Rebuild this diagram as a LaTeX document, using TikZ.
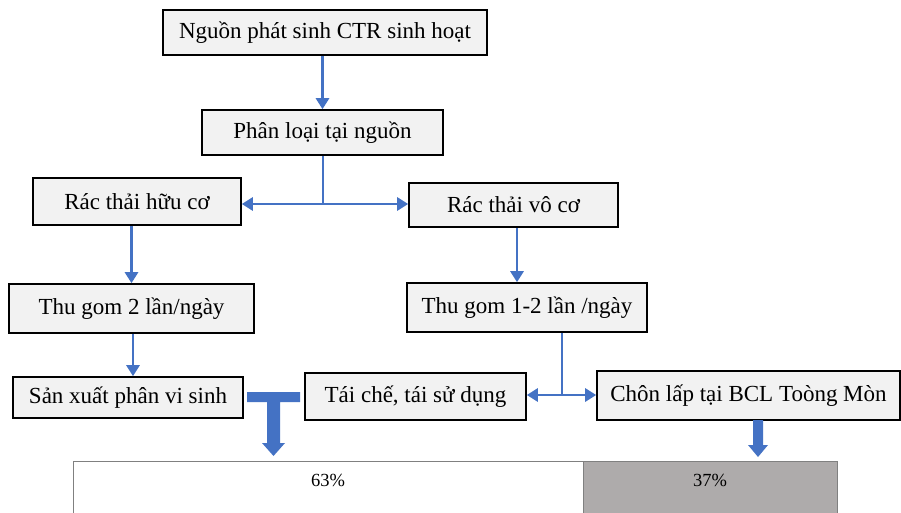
\documentclass[tikz,border=0pt]{standalone}
\usepackage{fontspec}
\setmainfont{Liberation Serif}
\usetikzlibrary{arrows.meta}
\definecolor{boxfill}{HTML}{F2F2F2}
\definecolor{arrblue}{HTML}{4472C4}
\definecolor{bargrey}{HTML}{AEABAB}
\begin{document}
\begin{tikzpicture}[x=1pt,y=-1pt,
  procbox/.style={draw=black,line width=1.6pt,fill=boxfill,inner sep=0pt,
    font=\fontsize{23}{27}\selectfont,anchor=center},
  arr/.style={draw=arrblue,line width=2.8pt,-{Triangle[width=13pt,length=11pt]}},
  conn/.style={draw=arrblue,line width=2.8pt},
  thick arrow/.style={fill=arrblue,draw=none},
  pct/.style={font=\fontsize{18.5}{21}\selectfont,anchor=center}]
\clip (0,0) rectangle (901,513);
\fill[white] (0,0) rectangle (901,513);
% boxes
\node[procbox,minimum width=324pt,minimum height=45pt] (n1) at (325,32.5) {Nguồn phát sinh CTR sinh hoạt};
\node[procbox,minimum width=241pt,minimum height=45pt] (n2) at (322.5,132.5) {Phân loại tại nguồn};
\node[procbox,minimum width=208pt,minimum height=47pt] (n3) at (137,201.5) {Rác thải hữu cơ};
\node[procbox,minimum width=209pt,minimum height=44pt] (n4) at (513.5,205) {Rác thải vô cơ};
\node[procbox,minimum width=245pt,minimum height=49pt] (n5) at (131.5,308.5) {Thu gom 2 lần/ngày};
\node[procbox,minimum width=240pt,minimum height=49pt] (n6) at (527,307.5) {Thu gom 1-2 lần /ngày};
\node[procbox,minimum width=230pt,minimum height=41pt] (n7) at (128,397.5) {Sản xuất phân vi sinh};
\node[procbox,minimum width=221pt,minimum height=47pt] (n8) at (415.5,396.5) {Tái chế, tái sử dụng};
\node[procbox,minimum width=303pt,minimum height=49pt] (n9) at (748.5,395.5) {Chôn lấp tại BCL Toòng Mòn};
% percentage bar
\node[draw=gray,line width=0.8pt,fill=white,minimum width=510pt,minimum height=70pt,inner sep=0pt,anchor=north west] (b1) at (73,461) {};
\node[draw=gray,line width=0.8pt,fill=bargrey,minimum width=254pt,minimum height=70pt,inner sep=0pt,anchor=north west] (b2) at (583,461) {};
\node[pct] (t1) at (328,480) {63\%};
\node[pct] (t2) at (710,480) {37\%};
% connectors
\draw[arr] (n2.north |- n1.south) -- (n2.north);
\coordinate (j1) at (323,204);
\draw[conn] (n2.south -| j1) -- (j1);
\draw[arr] (j1) -- (j1 -| n3.east);
\draw[arr] (j1) -- (j1 -| n4.west);
\draw[arr] (n5.north |- n3.south) -- (n5.north);
\draw[arr] ([xshift=3.5pt]n4.south) -- ([xshift=3.5pt]n4.south |- n6.north);
\draw[arr] ([xshift=1.5pt]n5.south) -- ([xshift=1.5pt]n5.south |- n7.north);
\coordinate (j2) at (562,395);
\draw[conn] (n6.south -| j2) -- (j2);
\draw[arr] (j2) -- (j2 -| n8.east);
\draw[arr] (j2) -- (j2 -| n9.west);
% T-shaped thick arrow
\fill[thick arrow] (247,392) -- (300,392) -- (300,402) -- (280,402) -- (280,443) -- (285,443)
  -- (273.5,456) -- (262,443) -- (267,443) -- (267,402) -- (247,402) -- cycle;
% landfill thick arrow
\fill[thick arrow] (753,420) -- (763,420) -- (763,445) -- (768,445) -- (758,457) -- (748,445) -- (753,445) -- cycle;
\end{tikzpicture}
\end{document}
